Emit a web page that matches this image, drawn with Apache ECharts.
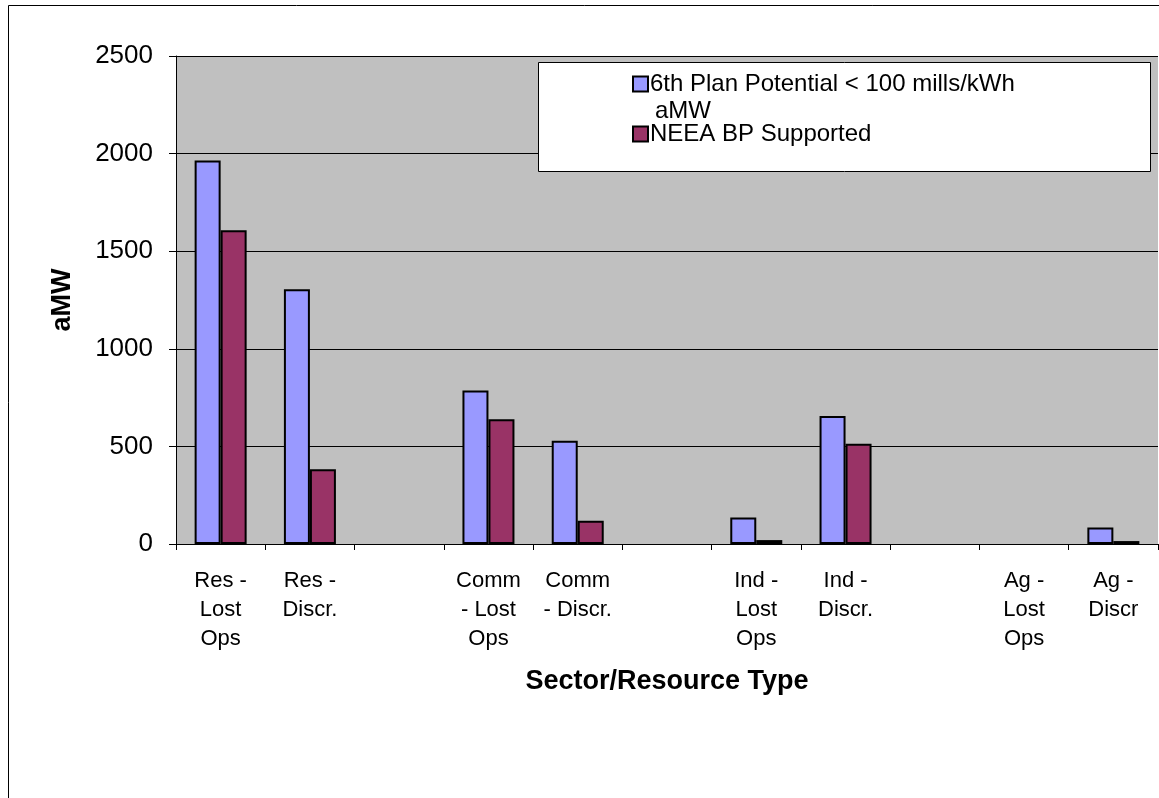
<!DOCTYPE html>
<html>
<head>
<meta charset="utf-8">
<title>aMW by Sector/Resource Type</title>
<script src="https://cdn.jsdelivr.net/npm/echarts@6/dist/echarts.min.js"></script>
<style>
  html, body { margin: 0; padding: 0; background: #fff; }
  #chart { width: 1159px; height: 798px; }
</style>
</head>
<body>
<div id="chart"></div>
<script>
// categories (empty strings are the spacer slots between sectors)
const categories = [
  'Res -\nLost\nOps', 'Res -\nDiscr.', '',
  'Comm\n- Lost\nOps', 'Comm\n- Discr.', '',
  'Ind -\nLost\nOps', 'Ind -\nDiscr.', '',
  'Ag -\nLost\nOps', 'Ag -\nDiscr'
]
// Ag - Lost Ops has no visible bar in either series
const planPotential = [1965, 1305, null, 787, 529, null, 136, 656, null, null, 85]
const neeaSupported = [1607, 383, null, 639, 119, null, 20, 514, null, null, 15]
const yTicks = [0, 500, 1000, 1500, 2000, 2500]

const seriesNames = ['6th Plan Potential < 100 mills/kWh aMW', 'NEEA BP Supported']
const FONT = 'Arial, "Liberation Sans", sans-serif'

const myChart = echarts.init(document.getElementById('chart'))

const option = {
  backgroundColor: '#fff',
  animation: false,
  textStyle: { fontFamily: FONT, color: '#000' },
  grid: {
    left: 176,
    top: 56,
    right: 1,
    bottom: 254,
    show: true,
    backgroundColor: '#C0C0C0',
    borderWidth: 0
  },
  // outer chart border + legend box + the wrapped second line of the first legend entry
  graphic: [
    {
      type: 'rect',
      z: 10,
      silent: true,
      shape: { x: 8.5, y: 5.5, width: 1200, height: 900 },
      style: { fill: null, stroke: '#000', lineWidth: 1 }
    },
    {
      type: 'rect',
      z: 3,
      silent: true,
      shape: { x: 538.5, y: 62.5, width: 612, height: 109 },
      style: { fill: '#fff', stroke: '#000', lineWidth: 1 }
    },
    {
      type: 'text',
      z: 5,
      left: 655,
      top: 99,
      style: { text: 'aMW', font: '24px ' + FONT, fill: '#000' }
    }
  ],
  legend: {
    orient: 'vertical',
    left: 627,
    top: 66,
    z: 5,
    itemWidth: 15,
    itemHeight: 15,
    itemGap: 24,
    icon: 'rect',
    data: seriesNames,
    formatter: function (name) {
      return name === seriesNames[0] ? '6th Plan Potential < 100 mills/kWh' : name
    },
    textStyle: { fontFamily: FONT, fontSize: 24, lineHeight: 26, color: '#000', padding: [0, 0, 0, -3] }
  },
  xAxis: {
    type: 'category',
    data: categories,
    name: 'Sector/Resource Type',
    nameLocation: 'middle',
    nameGap: 124,
    nameTextStyle: { fontFamily: FONT, fontSize: 27, fontWeight: 'bold', color: '#000' },
    axisLine: { lineStyle: { color: '#000', width: 1 } },
    axisTick: { show: true, length: 6, lineStyle: { color: '#000' } },
    axisLabel: {
      interval: 0,
      margin: 22,
      fontFamily: FONT,
      fontSize: 22,
      lineHeight: 29,
      color: '#000',
      align: 'center'
    }
  },
  yAxis: {
    type: 'value',
    min: yTicks[0],
    max: yTicks[yTicks.length - 1],
    interval: 500,
    name: 'aMW',
    nameLocation: 'middle',
    nameGap: 100,
    nameTextStyle: { fontFamily: FONT, fontSize: 27, fontWeight: 'bold', color: '#000' },
    axisLine: { show: true, lineStyle: { color: '#000', width: 1 } },
    axisTick: { show: true, length: 7, lineStyle: { color: '#000' } },
    axisLabel: {
      margin: 23,
      fontFamily: FONT,
      fontSize: 26,
      color: '#000',
      formatter: function (v) { return String(v) }
    },
    splitLine: { show: true, lineStyle: { color: '#000', width: 1 } }
  },
  series: [
    {
      name: seriesNames[0],
      type: 'bar',
      data: planPotential,
      barWidth: 26,
      barGap: '0%',
      itemStyle: { color: '#9999FF', borderColor: '#000', borderWidth: 2 }
    },
    {
      name: seriesNames[1],
      type: 'bar',
      data: neeaSupported,
      barWidth: 26,
      barGap: '0%',
      itemStyle: { color: '#993366', borderColor: '#000', borderWidth: 2 }
    }
  ]
}

myChart.setOption(option)
</script>
</body>
</html>
